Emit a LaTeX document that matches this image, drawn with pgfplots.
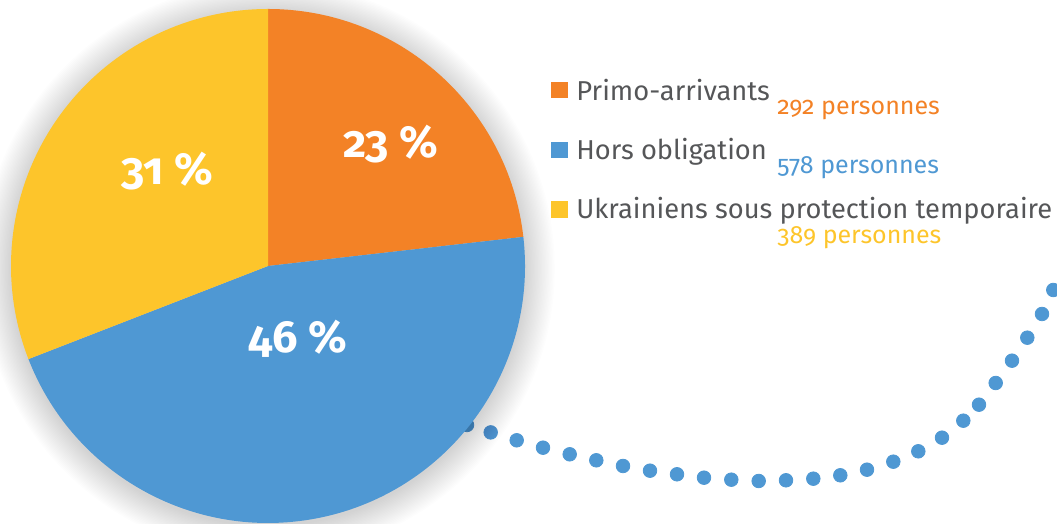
\documentclass[border=0pt]{standalone}
\usepackage{pgfplots}
\pgfplotsset{compat=1.18}
\usepackage{fontspec}
\setmainfont{Fira Sans}[Numbers=OldStyle]
\definecolor{orn}{RGB}{243,130,38}
\definecolor{blu}{RGB}{79,152,211}
\definecolor{yel}{RGB}{253,197,43}
\definecolor{txt}{RGB}{85,86,88}
\def\vA{292}\def\vB{578}\def\vC{389}
\begin{document}
\begin{tikzpicture}
\pgfmathsetmacro\tot{\vA+\vB+\vC}
\pgfmathsetmacro\aA{90-360*(\vA/\tot)}
\pgfmathsetmacro\aB{\aA-360*(\vB/\tot)}
\begin{axis}[set layers,x=0.5pt,y=0.5pt,xmin=0,xmax=1057,ymin=0,ymax=524,hide axis,clip=true,clip marker paths=true]
\addplot[on layer=axis background, only marks, mark=*, mark size=3.4pt, color=blu] coordinates {
(467,99)(490.7,91.6)(516.7,83.7)(543,76.3)(569.7,69.7)(596.3,63.7)(623,58)(650,53.3)(677,49.7)(704,46.3)(731.3,44.3)(758.7,43)(786,43.7)(813.3,45.3)(840.3,48.7)(867,54.3)(893.3,62.3)(918.3,72.7)(942,86.3)(963.3,103.3)(979,119.3)(995.7,141)(1012,163.3)(1027.3,186.3)(1042,210)(1053.3,234)
};
\pgfplotsinvokeforeach{1,...,22}{
 \fill[black,opacity=0.007] (axis cs:268,255) circle[radius={(256+#1*1.4)*0.5pt}];
}
\fill[orn] (axis cs:268,258) -- ++(90:128.5pt) arc[start angle=90,end angle=\aA,radius=128.5pt] -- cycle;
\fill[blu] (axis cs:268,258) -- ++(\aA:128.5pt) arc[start angle=\aA,end angle=\aB,radius=128.5pt] -- cycle;
\fill[yel] (axis cs:268,258) -- ++(\aB:128.5pt) arc[start angle=\aB,end angle=-270,radius=128.5pt] -- cycle;
\node[white,font=\bfseries\fontsize{22.5}{22.5}\selectfont] at (axis cs:391,380) {23 \%};
\node[white,font=\bfseries\fontsize{22.5}{22.5}\selectfont] at (axis cs:167,353) {31 \%};
\node[white,font=\bfseries\fontsize{22.5}{22.5}\selectfont] at (axis cs:298,185) {46 \%};
\fill[orn] (axis cs:550.5,425.7) rectangle (axis cs:567.5,442.3);
\fill[blu] (axis cs:550.5,365.7) rectangle (axis cs:567.5,382.3);
\fill[yel] (axis cs:550.5,306) rectangle (axis cs:567.5,323);
\node[anchor=base west,inner sep=0pt,txt,font=\fontsize{13.65}{13.65}\selectfont] at (axis cs:576,423.3) {Primo-arrivants};
\node[anchor=base west,inner sep=0pt,txt,font=\fontsize{13.65}{13.65}\selectfont] at (axis cs:576,364) {Hors obligation};
\node[anchor=base west,inner sep=0pt,txt,font=\fontsize{13.65}{13.65}\selectfont] at (axis cs:576,305.7) {Ukrainiens sous protection temporaire};
\node[anchor=base west,inner sep=0pt,orn,font=\fontsize{12.5}{12.5}\selectfont] at (axis cs:777,409) {292 personnes};
\node[anchor=base west,inner sep=0pt,blu,font=\fontsize{12.5}{12.5}\selectfont] at (axis cs:777,350) {578 personnes};
\node[anchor=base west,inner sep=0pt,yel,font=\fontsize{12.5}{12.5}\selectfont] at (axis cs:777,280) {389 personnes};
\end{axis}
\end{tikzpicture}
\end{document}
